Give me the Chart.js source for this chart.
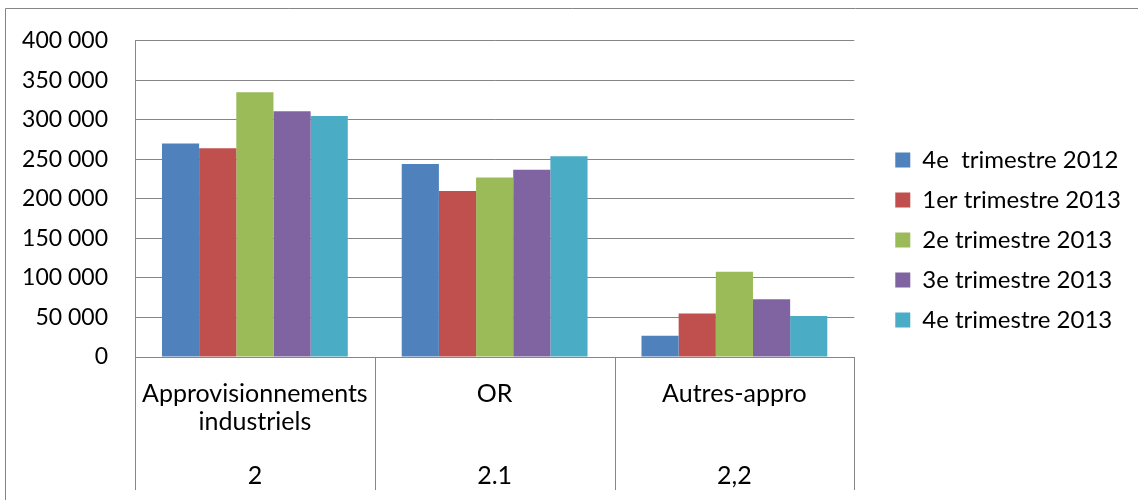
<!DOCTYPE html>
<html>
<head>
<meta charset="utf-8">
<script src="https://cdn.jsdelivr.net/npm/chart.js@4.4.1/dist/chart.umd.min.js"></script>
<style>
  html, body { margin: 0; padding: 0; background: #fff; }
  #wrap { width: 1138px; height: 500px; }
</style>
</head>
<body>
<div id="wrap"><canvas id="chart"></canvas></div>
<script>
const categories = [['Approvisionnements', 'industriels'], 'OR', 'Autres-appro'];
const codes = ['2', '2.1', '2,2'];
const seriesNames = ['4e  trimestre 2012', '1er trimestre 2013', '2e trimestre 2013', '3e trimestre 2013', '4e trimestre 2013'];
const q4_2012 = [270000, 244000, 27000];
const q1_2013 = [264000, 210000, 55000];
const q2_2013 = [335000, 227000, 108000];
const q3_2013 = [311000, 237000, 73000];
const q4_2013 = [305000, 254000, 52000];
const colors = ['#4F81BD', '#C0504D', '#9BBB59', '#8064A2', '#4BACC6'];

const FONT = 'Lato';
const GRID = '#868686';
const LEGEND_SHIFT = 25;

// vertical separators of the two-level category axis + outer frame
const axisFrame = {
  id: 'axisFrame',
  afterLayout(chart) {
    // push the legend a bit away from the plot, like Excel does
    chart.legend.left += LEGEND_SHIFT;
    chart.legend.right += LEGEND_SHIFT;
  },
  beforeDraw(chart) {
    const ctx = chart.ctx;
    ctx.save();
    ctx.strokeStyle = GRID;
    ctx.lineWidth = 1;
    ctx.beginPath();
    ctx.moveTo(5.5, 600);
    ctx.lineTo(5.5, 8.5);
    ctx.lineTo(1200, 8.5);
    ctx.stroke();
    ctx.restore();
  },
  afterDraw(chart) {
    const x = chart.scales.x, x2 = chart.scales.x2;
    const ctx = chart.ctx;
    const n = categories.length;
    const step = n > 1 ? x.getPixelForValue(1) - x.getPixelForValue(0) : x.width;
    ctx.save();
    ctx.strokeStyle = GRID;
    ctx.lineWidth = 1;
    ctx.beginPath();
    for (let i = 0; i <= n; i++) {
      const px = Math.round(x.getPixelForValue(0) - step / 2 + i * step) + 0.5;
      ctx.moveTo(px, chart.chartArea.bottom);
      ctx.lineTo(px, x2.bottom);
    }
    ctx.stroke();
    ctx.restore();
  }
};

new Chart(document.getElementById('chart'), {
  type: 'bar',
  data: {
    labels: categories,
    datasets: [q4_2012, q1_2013, q2_2013, q3_2013, q4_2013].map((d, i) => ({
      label: seriesNames[i],
      data: d,
      backgroundColor: colors[i],
      borderWidth: 0,
      categoryPercentage: 0.775,
      barPercentage: 1.0,
    })),
  },
  options: {
    responsive: true,
    maintainAspectRatio: false,
    animation: false,
    layout: { padding: { left: 0, top: 38, right: 32, bottom: 10 } },
    plugins: {
      tooltip: { enabled: false },
      legend: {
        position: 'right',
        align: 'start',
        title: { display: true, text: '', padding: { top: 70, bottom: 0 }, font: { size: 20 } },
        labels: {
          color: '#000',
          font: { family: FONT, size: 24 },
          boxWidth: 15,
          boxHeight: 15,
          padding: 16,
        },
      },
    },
    scales: {
      x: {
        type: 'category',
        grid: { display: false },
        border: { display: true, color: GRID },
        ticks: {
          color: '#000',
          font: { family: FONT, size: 25, lineHeight: '28px' },
          padding: 15,
          maxRotation: 0,
          autoSkip: false,
        },
        afterFit: s => { s.height = 83; },
      },
      x2: {
        type: 'category',
        labels: codes,
        position: 'bottom',
        grid: { display: false },
        border: { display: false },
        ticks: {
          color: '#000',
          font: { family: FONT, size: 25, lineHeight: '28px' },
          padding: 14,
          maxRotation: 0,
        },
        afterFit: s => { s.height = 50; },
      },
      y: {
        min: 0,
        max: 400000,
        grid: { color: GRID, drawTicks: false },
        border: { display: true, color: GRID },
        ticks: {
          stepSize: 50000,
          color: '#000',
          padding: 27,
          font: { family: FONT, size: 23 },
          callback: v => v.toLocaleString('fr-FR').replace(/\s/g, ' '),
        },
        afterFit: s => { s.width = 135; },
      },
    },
  },
  plugins: [axisFrame],
});
</script>
</body>
</html>
